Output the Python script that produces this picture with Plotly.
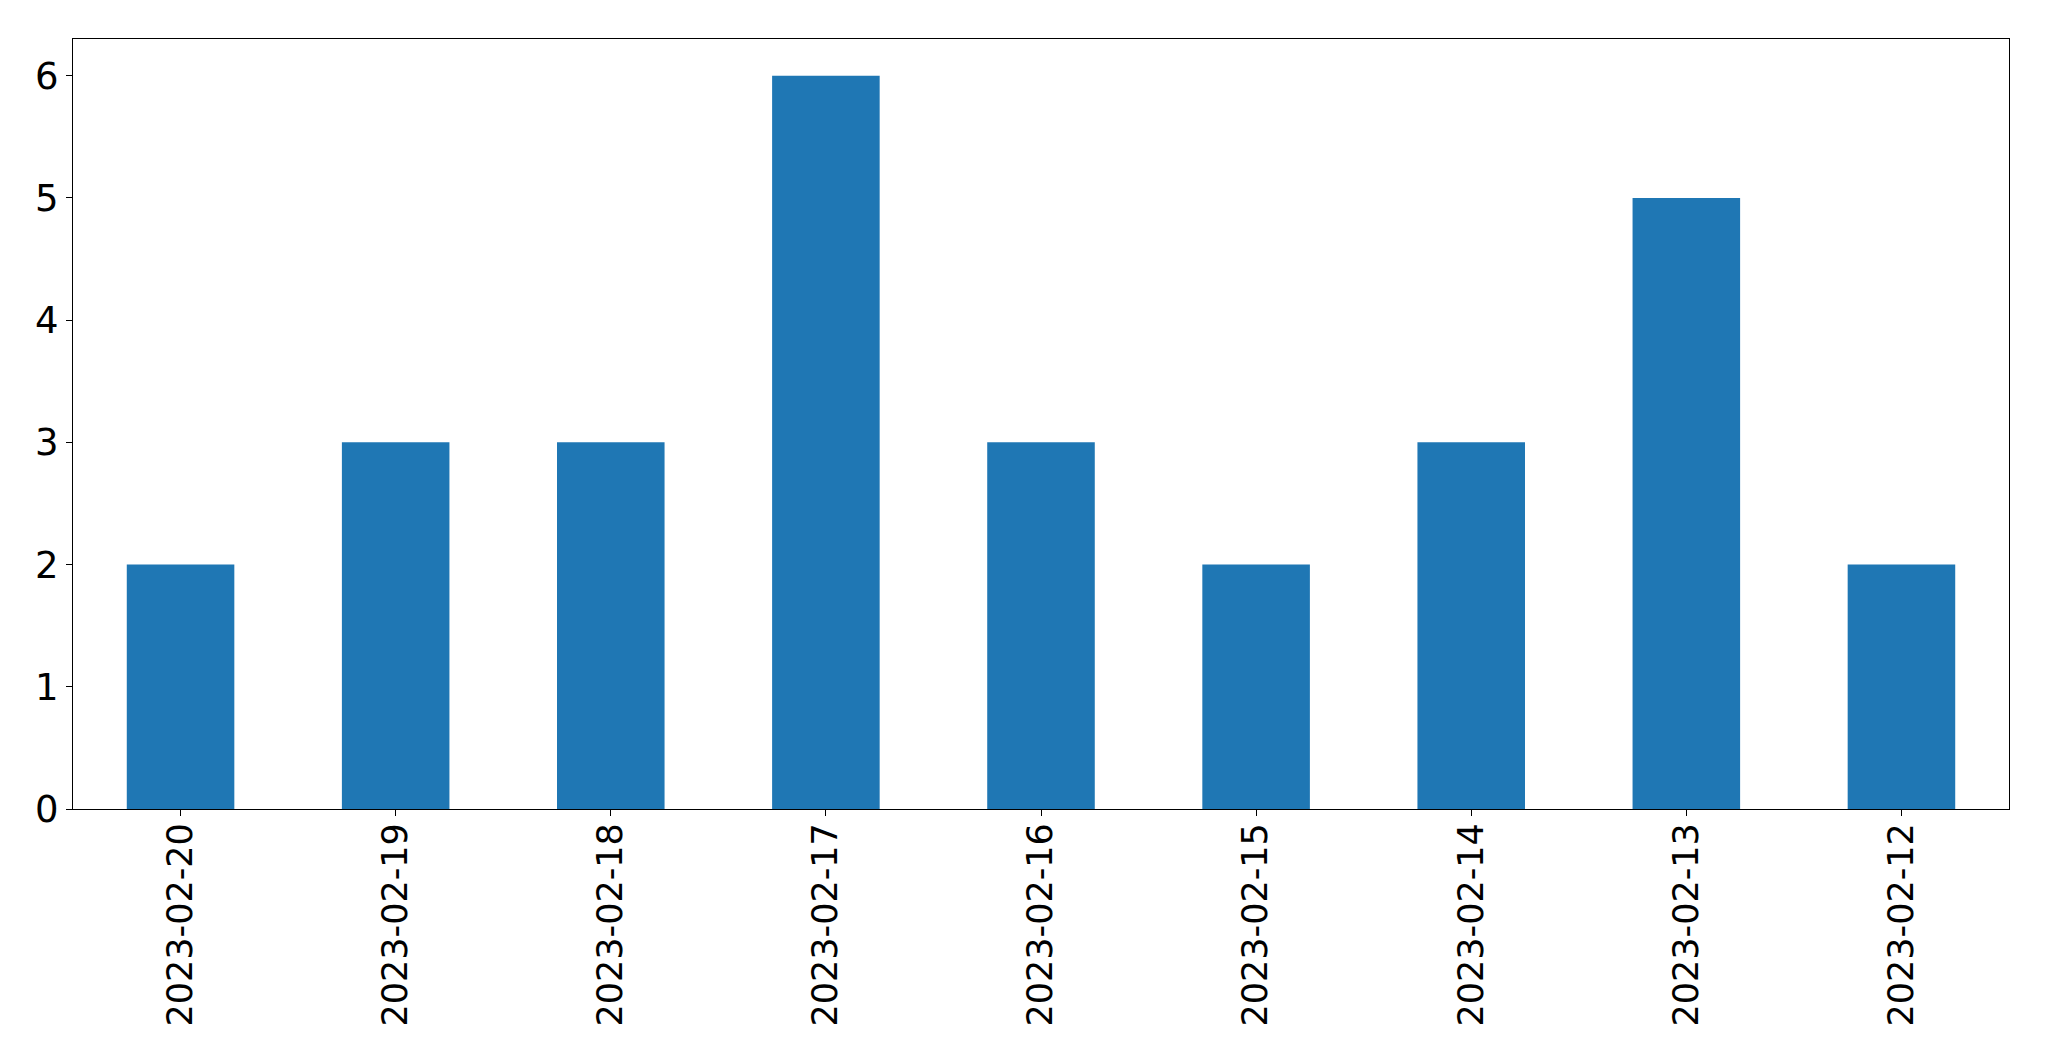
import plotly.graph_objects as go

# ── Data ──────────────────────────────────────────────────────────────────────
dates = [
    "2023-02-20", "2023-02-19", "2023-02-18", "2023-02-17", "2023-02-16",
    "2023-02-15", "2023-02-14", "2023-02-13", "2023-02-12",
]
counts = [2, 3, 3, 6, 3, 2, 3, 5, 2]
y_ticks = [0, 1, 2, 3, 4, 5, 6]

BAR_COLOR = "#1f77b4"
FONT = dict(family="DejaVu Sans, sans-serif", size=35, color="black")

fig = go.Figure()
fig.add_trace(go.Bar(
    x=dates, y=counts,
    width=0.5,
    marker=dict(color=BAR_COLOR, line=dict(width=0)),
))

axis_common = dict(
    showline=True, linecolor="black", linewidth=1.3, mirror=True,
    showgrid=False, zeroline=False,
    ticks="outside", ticklen=6, tickwidth=1.3, tickcolor="black",
)

# page body adds an 8px offset, so the figure is a little smaller than the window
fig.update_layout(
    width=2041, height=1053,
    paper_bgcolor="white", plot_bgcolor="white",
    font=FONT,
    margin=dict(l=65, r=40, t=31, b=252, pad=0),
    showlegend=False,
    xaxis=dict(
        **axis_common,
        type="category",
        range=[-0.5, 8.5],
        tickangle=-90,
        ticklabelstandoff=-7,
        tickfont=dict(FONT, size=35),
    ),
    yaxis=dict(
        **axis_common,
        range=[0, 6.3],
        tickvals=y_ticks,
        ticktext=[str(v) for v in y_ticks],
        tickfont=dict(FONT, size=37),
    ),
)

fig.write_html("out.html")
